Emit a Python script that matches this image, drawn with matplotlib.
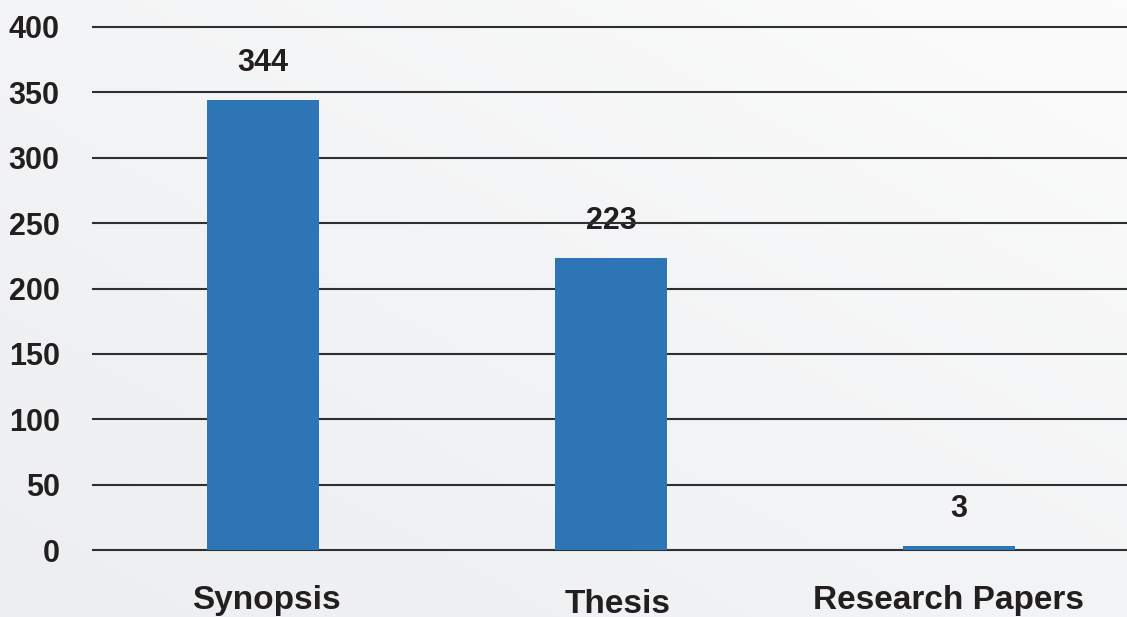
import numpy as np
import matplotlib.pyplot as plt
import matplotlib.transforms as mtransforms
from matplotlib.colors import LinearSegmentedColormap

plt.rcParams['font.family'] = ['Liberation Sans', 'DejaVu Sans']
plt.rcParams['font.weight'] = 'bold'

categories = ['Synopsis', 'Thesis', 'Research Papers']
counts = [344, 223, 3]
y_ticks = [0, 50, 100, 150, 200, 250, 300, 350, 400]

fig = plt.figure(figsize=(11.27, 6.17), dpi=100)

# soft diagonal background gradient
bg = fig.add_axes([0, 0, 1, 1], zorder=-10)
gx, gy = np.meshgrid(np.linspace(0, 1, 200), np.linspace(0, 1, 200))
cmap = LinearSegmentedColormap.from_list('bg', ['#eceef0', '#f3f4f5', '#fcfcfc'])
bg.imshow((gx + gy) / 2, cmap=cmap, origin='lower', aspect='auto', extent=[0, 1, 0, 1])
bg.axis('off')

ax = fig.add_axes([93 / 1127, 67 / 617, 1 - 93 / 1127, 523 / 617])
ax.patch.set_visible(False)

x = np.arange(len(categories))
for t in y_ticks:
    ax.axhline(t, color='#2f2f2f', lw=1.5, zorder=1, clip_on=False)
ax.bar(x, counts, width=0.32, color='#2e75b6', zorder=2)

for xi, v in zip(x, counts):
    ax.annotate(str(v), (xi, v), xytext=(0, 27), textcoords='offset points',
                ha='center', va='center', fontsize=22, color='#231f20',
                fontweight='bold', zorder=0.5)

ax.set_xlim(-0.4885, 2.483)
ax.set_ylim(0, 400)
ax.set_yticks(y_ticks)
ax.set_yticklabels([str(t) for t in y_ticks], fontsize=22, color='#231f20', fontweight='bold')
ax.tick_params(axis='y', length=0, pad=24)
ax.set_xticks(x)
ax.set_xticklabels(categories, fontsize=24, color='#231f20', fontweight='bold')
ax.tick_params(axis='x', length=0, pad=25)
# small nudges of the category labels, as in the original slide
shifts = [(3, 0), (7, -4), (-10, 0)]
for lbl, (dx, dy) in zip(ax.get_xticklabels(), shifts):
    lbl.set_transform(lbl.get_transform() + mtransforms.ScaledTranslation(dx / 100, dy / 100, fig.dpi_scale_trans))
for s in ax.spines.values():
    s.set_visible(False)

fig.savefig('out.png', dpi=100)
